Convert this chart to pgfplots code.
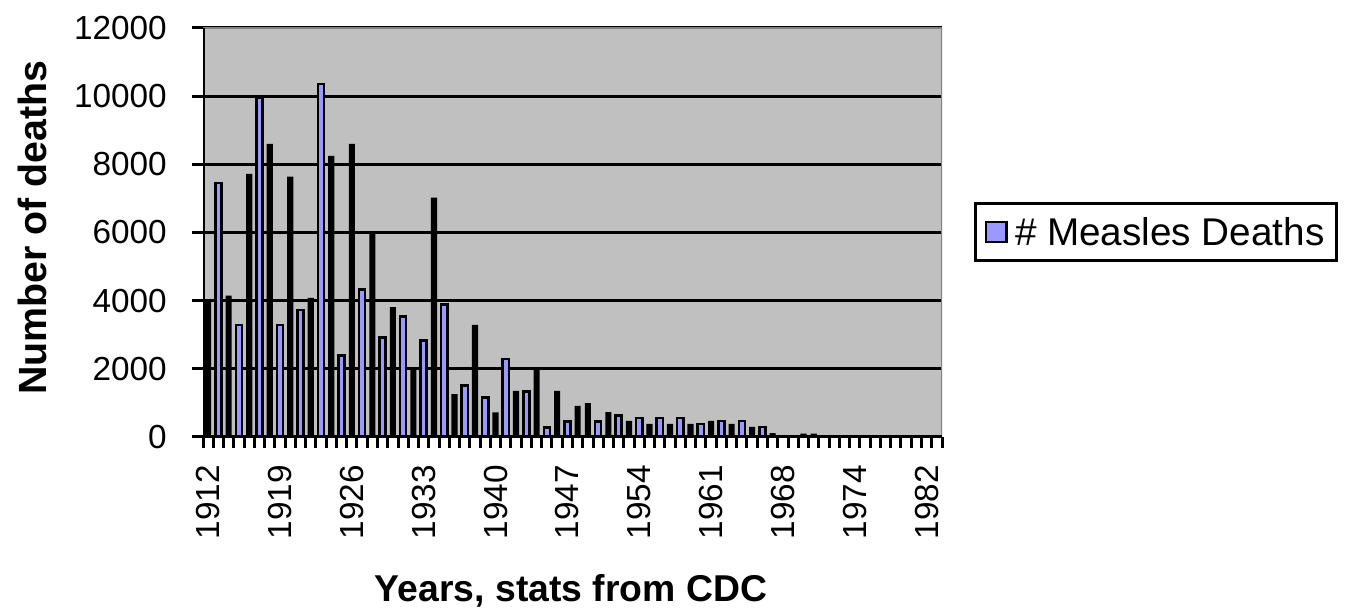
\documentclass[border=0pt]{standalone}
\usepackage{pgfplots}
\pgfplotsset{compat=1.18}
\usepackage{fontspec}
\setmainfont{Liberation Sans}
\definecolor{plotbg}{RGB}{192,192,192}
\definecolor{barblue}{RGB}{153,153,255}
\definecolor{bordergray}{RGB}{128,128,128}
\begin{document}
\begin{tikzpicture}
\path[use as bounding box] (0pt,0pt) rectangle (1008.75pt,456.75pt);
\begin{axis}[
  at={(152.25pt,129pt)}, anchor=south west,
  scale only axis, width=554.25pt, height=306.75pt,
  xmin=-0.5, xmax=71.5, ymin=0, ymax=12000,
  axis background/.style={fill=plotbg},
  axis line style={draw=none},
  tick pos=left, tick align=outside,
  major tick length=8pt,
  tick style={black, line width=2.25pt},
  xtick={-0.5,0.5,...,71.5},
  xticklabels={},
  extra x ticks={0,7,14,21,28,35,42,49,56,63,70},
  extra x tick labels={1912,1919,1926,1933,1940,1947,1954,1961,1968,1974,1982},
  extra x tick style={major tick length=0pt},
  x tick label style={rotate=90, anchor=east, inner sep=0pt, xshift=-21pt, font=\fontsize{25}{30}\selectfont},
  ytick={0,2000,...,12000},
  scaled y ticks=false,
  /pgf/number format/1000 sep={},
  /pgf/number format/assume math mode=true,
  y tick label style={anchor=east, inner sep=0pt, xshift=-19pt, font=\fontsize{25}{30}\selectfont},
  ymajorgrids,
  major grid style={black, line width=2.25pt},
  xlabel={Years, stats from CDC},
  xlabel style={at={(axis description cs:0.498,-0.4034)}, anchor=base, font=\bfseries\fontsize{28}{34}\selectfont},
  ylabel={Number of deaths},
  ylabel style={at={(axis description cs:-0.2124,0.5122)}, anchor=base, rotate=0, font=\bfseries\fontsize{29.5}{35}\selectfont},
  legend style={at={(axis description cs:1.5359,0.501)}, anchor=east, draw=black, line width=2.25pt, fill=white,
    font=\fontsize{29}{34}\selectfont, inner xsep=7pt, inner ysep=8pt},
  legend image code/.code={\draw[fill=barblue,draw=black,line width=1.9pt] (0pt,-7.5pt) rectangle (15.5pt,7.5pt); \path (19pt,0pt);},
]
% bars rendered with light fill
\addplot[ybar, bar width=4.6pt, bar shift=0pt, fill=barblue, draw=black, line width=1.9pt] coordinates {
(1,7450) (3,3280) (5,9950) (7,3280) (9,3720) (11,10360) (13,2390) (15,4330) (17,2920) (19,3540)
(21,2830) (23,3880) (25,1510) (27,1165) (29,2290) (31,1340) (33,285) (35,455) (38,460) (40,635)
(42,555) (44,555) (46,555) (48,382) (50,470) (52,470) (54,294)
};
\addlegendentry{\# Measles Deaths}
% bars rendered as solid dark
\addplot[ybar, bar width=4.6pt, bar shift=0pt, fill=black, draw=none, forget plot] coordinates {
(0,4000) (2,4150) (4,7720) (6,8600) (8,7640) (10,4080) (12,8250) (14,8600) (16,5990) (18,3810)
(20,2020) (22,7020) (24,1255) (26,3290) (28,725) (30,1350) (32,2000) (34,1350) (36,912) (37,995)
(39,730) (41,470) (43,382) (45,382) (47,382) (49,470) (51,382) (53,294) (55,110) (56,24)
(57,41) (58,100) (59,100) (60,24) (61,23) (62,20) (63,20) (64,12) (65,15) (66,11)
(67,6) (68,11) (69,2) (70,2) (71,3)
};
\draw[bordergray, line width=2.25pt] (axis description cs:0,1) -- (axis description cs:1,1) -- (axis description cs:1,0);
\draw[black, line width=2.25pt] (axis description cs:0,1) -- (axis description cs:0,0) -- (axis description cs:1,0);
\end{axis}
\end{tikzpicture}
\end{document}
